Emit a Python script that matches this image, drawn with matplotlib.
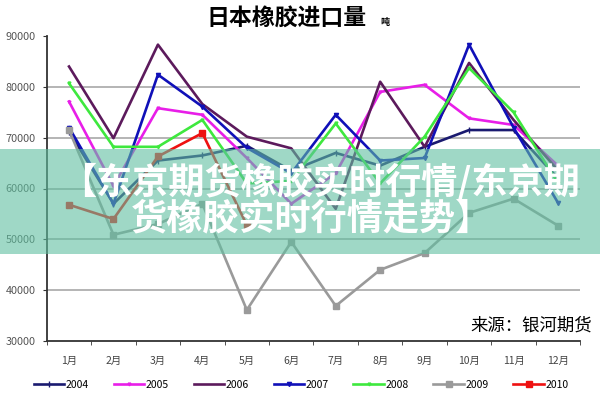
import numpy as np
import matplotlib
matplotlib.use("Agg")
import matplotlib.pyplot as plt
from matplotlib.patches import Rectangle

plt.rcParams['font.family'] = ['Noto Sans CJK SC', 'DejaVu Sans']

months = ["1月", "2月", "3月", "4月", "5月", "6月", "7月", "8月", "9月", "10月", "11月", "12月"]
y2004 = [71200, 57000, 65500, 66500, 68400, 63500, 67000, 64500, 68200, 71500, 71500, 62000]
y2005 = [77100, 60500, 75800, 74500, 66000, 57000, 63000, 79000, 80400, 73800, 72500, 64500]
y2006 = [84000, 69900, 88300, 76600, 70200, 67900, 56000, 81000, 68200, 84700, 73500, 63600]
y2007 = [72000, 57000, 82400, 76100, 68000, 63000, 74500, 65500, 66000, 88300, 72000, 57200]
y2008 = [80700, 68200, 68200, 73500, 61000, 61500, 72800, 61000, 70200, 83700, 75000, 61100]
y2009 = [71500, 50900, 53000, 57000, 36100, 49500, 36900, 44000, 47300, 55200, 58000, 52700]
y2010 = [56800, 54000, 66300, 70900, 52800]
yticks = [30000, 40000, 50000, 60000, 70000, 80000, 90000]

series = [
    ("2004", y2004, "#1a1a70", "|", 4),
    ("2005", y2005, "#e81ee8", "v", 2),
    ("2006", y2006, "#5c1a5c", None, 0),
    ("2007", y2007, "#1010b8", "v", 3),
    ("2008", y2008, "#3ee83e", "v", 2),
    ("2009", y2009, "#9a9a9a", "s", 4),
    ("2010", y2010, "#ee1111", "s", 5),
]

fig = plt.figure(figsize=(6, 4), dpi=100)
ax = fig.add_axes([0.078, 0.1475, 0.889, 0.7625])
x = np.arange(len(months))
for name, vals, col, mk, ms in series:
    ax.plot(x[:len(vals)], vals, color=col, lw=1.9, marker=mk, markersize=ms,
            markeredgecolor=col, label=name, zorder=3)

ax.set_xlim(-0.5, 11.5)
ax.set_ylim(30000, 90000)
ax.set_yticks(yticks)
ax.set_yticklabels([str(v) for v in yticks], fontsize=7.8, color="#555555")
ax.set_xticks(x)
ax.set_xticklabels(months, fontsize=7.5, color="#444444")
ax.set_xticks(np.arange(-0.5, 12, 1), minor=True)
ax.tick_params(axis='x', which='major', length=0, pad=11)
ax.tick_params(axis='x', which='minor', length=3, color="#333333")
ax.tick_params(axis='y', length=3, pad=5, color="#333333")
for v in yticks[1:-1]:
    ax.axhline(v, color="#a8a8a8", lw=1.2, zorder=1)
for s in ["top", "right"]:
    ax.spines[s].set_visible(False)
ax.spines["left"].set_color("#333333")
ax.spines["bottom"].set_color("#333333")
ax.spines["left"].set_linewidth(1.3)
ax.spines["bottom"].set_linewidth(1.3)

fig.text(286 / 600, 1 - 19 / 400, "日本橡胶进口量", fontsize=16.5, fontweight="bold", ha="center", va="center")
fig.text(385 / 600, 1 - 23 / 400, "吨", fontsize=6.5, fontweight="bold", ha="center", va="center")
fig.text(592 / 600, 1 - 326 / 400, "来源：银河期货", fontsize=12.5, ha="right", va="center")

fig.legend(loc="center", bbox_to_anchor=(301 / 600, 1 - 385 / 400), ncol=7, fontsize=7.5, frameon=False,
           handlelength=2.9, columnspacing=2.4, handletextpad=0.15)

# banner overlay
fig.patches.append(Rectangle((0, 1 - 254 / 400), 1, (254 - 149) / 400, transform=fig.transFigure,
                             facecolor="#5fbfa0", alpha=0.6, edgecolor="none", zorder=5))
fig.text(320 / 600, 1 - 183 / 400, "【东京期货橡胶实时行情/东京期", fontsize=26, fontweight="bold",
         color="white", ha="center", va="center", zorder=6)
fig.text(311 / 600, 1 - 219 / 400, "货橡胶实时行情走势】", fontsize=26, fontweight="bold",
         color="white", ha="center", va="center", zorder=6)

fig.savefig("out.png", dpi=100)
